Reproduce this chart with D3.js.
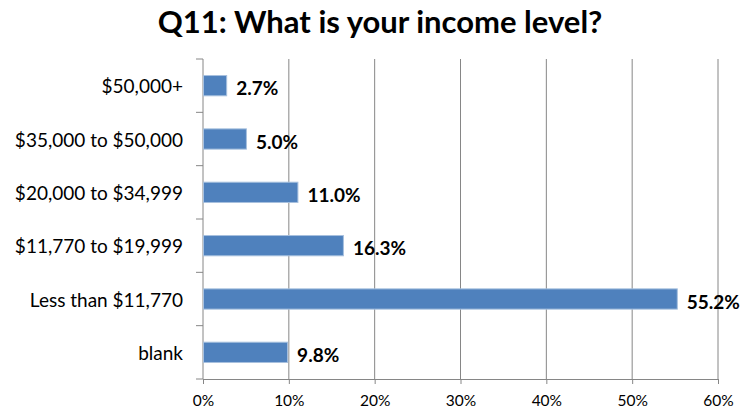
<!DOCTYPE html>
<html>
<head>
<meta charset="utf-8">
<script src="https://cdn.jsdelivr.net/npm/d3@7"></script>
<style>
  body { margin: 0; background: #fff; }
  svg text { font-family: Lato, "Open Sans", sans-serif; fill: #000; }
</style>
</head>
<body>
<div id="chart"></div>
<script>
// chart data, top to bottom
const categories = ["$50,000+", "$35,000 to $50,000", "$20,000 to $34,999", "$11,770 to $19,999", "Less than $11,770", "blank"];
const values = [2.7, 5.0, 11.0, 16.3, 55.2, 9.8];
const xTicks = [0, 10, 20, 30, 40, 50, 60];

const width = 742, height = 415;
const margin = {top: 59, right: 24, bottom: 36, left: 203};

const svg = d3.select("#chart").append("svg")
    .attr("width", width)
    .attr("height", height);

const x = d3.scaleLinear()
    .domain([0, 60])
    .range([margin.left, width - margin.right]);

const y = d3.scaleBand()
    .domain(categories)
    .range([margin.top, height - margin.bottom])
    .paddingInner(0.62)
    .paddingOuter(0.31);

// title
svg.append("text")
    .attr("x", 380)
    .attr("y", 33)
    .attr("text-anchor", "middle")
    .style("font-size", "31px")
    .style("font-weight", "bold")
    .text("Q11: What is your income level?");

// vertical gridlines
svg.append("g")
    .selectAll("line")
    .data(xTicks.slice(1))
    .join("line")
    .attr("x1", d => x(d))
    .attr("x2", d => x(d))
    .attr("y1", margin.top)
    .attr("y2", height - margin.bottom)
    .attr("stroke", "#868686")
    .attr("stroke-width", 1);

// x axis
const xAxis = svg.append("g")
    .attr("transform", `translate(0,${height - margin.bottom})`)
    .call(d3.axisBottom(x).tickValues(xTicks).tickFormat(d => d + "%").tickSizeInner(5).tickSizeOuter(0).tickPadding(11));
xAxis.select(".domain").attr("stroke", "#868686");
xAxis.selectAll(".tick line").attr("stroke", "#868686");
xAxis.selectAll("text").style("font-size", "15.5px");

// y axis with ticks between categories
const yAxisG = svg.append("g");
yAxisG.append("line")
    .attr("x1", margin.left).attr("x2", margin.left)
    .attr("y1", margin.top).attr("y2", height - margin.bottom)
    .attr("stroke", "#868686");
const step = y.step();
yAxisG.selectAll(".sep")
    .data(d3.range(categories.length + 1))
    .join("line")
    .attr("x1", margin.left - 7).attr("x2", margin.left)
    .attr("y1", i => margin.top + i * step)
    .attr("y2", i => margin.top + i * step)
    .attr("stroke", "#868686");
yAxisG.selectAll("text")
    .data(categories)
    .join("text")
    .attr("x", margin.left - 20)
    .attr("y", d => y(d) + y.bandwidth() / 2 + 1)
    .attr("dy", "0.35em")
    .attr("text-anchor", "end")
    .style("font-size", "19px")
    .text(d => d);

// bars
const rows = categories.map((c, i) => ({cat: c, val: values[i]}));
svg.append("g")
    .selectAll("rect")
    .data(rows)
    .join("rect")
    .attr("x", x(0) + 0.5)
    .attr("y", d => y(d.cat))
    .attr("width", d => x(d.val) - x(0))
    .attr("height", y.bandwidth())
    .attr("fill", "#4f81bd")
    .attr("stroke", "#a7c0de")
    .attr("stroke-width", 1);

// value labels
svg.append("g")
    .selectAll("text")
    .data(rows)
    .join("text")
    .attr("x", d => x(d.val) + 10)
    .attr("y", d => y(d.cat) + y.bandwidth() / 2 + 3)
    .attr("dy", "0.35em")
    .style("font-size", "19px")
    .style("font-weight", "bold")
    .text(d => d.val.toFixed(1) + "%");
</script>
</body>
</html>
